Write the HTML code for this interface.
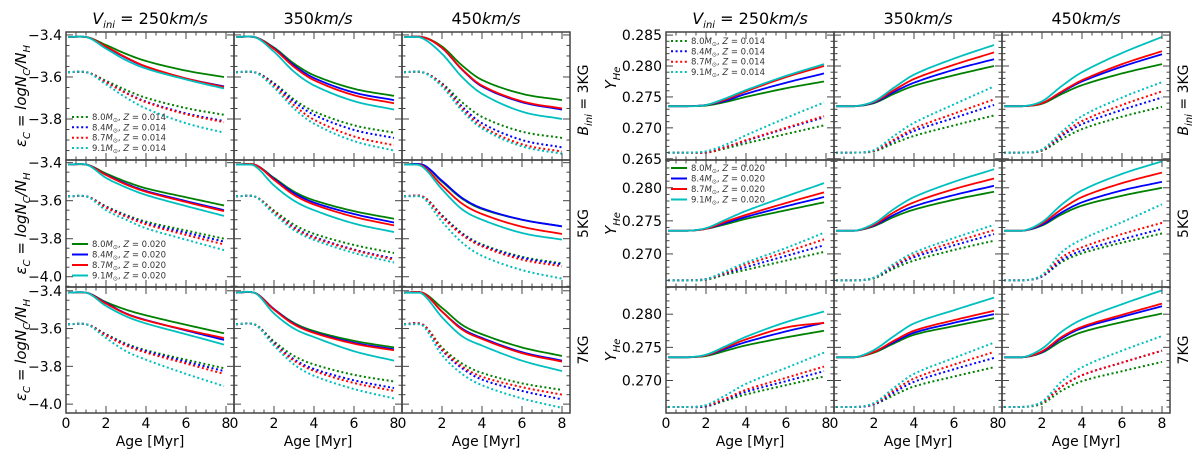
<!DOCTYPE html>
<html><head><meta charset="utf-8"><style>
html,body{margin:0;padding:0;background:#fff;}
svg{display:block;font-family:"DejaVu Sans","Liberation Sans",sans-serif;}
</style></head><body>
<svg id="fig" width="1200" height="450" viewBox="0 0 1200 450" xmlns="http://www.w3.org/2000/svg"></svg>
<script>
// ---- data ----
const ageKnots = [0.1, 1, 2, 3, 4, 6, 8];
const ageKnotsCol1 = [0.1, 1, 2, 3, 4, 6, 7.9];
const massLabels = ['8.0', '8.4', '8.7', '9.1'];
const seriesColors = ['#008000', '#0000ff', '#ff0000', '#00bfbf'];
const columnTitles = ['250km/s', '350km/s', '450km/s'];
const rowTitles = ['3KG', '5KG', '7KG'];
const carbonTicks = [-3.4, -3.6, -3.8, -4.0];
const heliumTicks = [0.285, 0.280, 0.275, 0.270, 0.265];
const xTickLabels = [0, 2, 4, 6, 8];

// Carbon, eps_C ; order green, blue, red, cyan
const carbon_3KG_250_solid = [[-3.41,-3.41,-3.448,-3.49,-3.524,-3.57,-3.60],[-3.41,-3.41,-3.457,-3.509,-3.551,-3.607,-3.645],[-3.41,-3.41,-3.455,-3.507,-3.55,-3.607,-3.648],[-3.41,-3.41,-3.465,-3.52,-3.56,-3.612,-3.655]];
const carbon_3KG_250_dot = [[-3.577,-3.577,-3.618,-3.662,-3.699,-3.748,-3.78],[-3.577,-3.577,-3.624,-3.675,-3.717,-3.773,-3.81],[-3.577,-3.577,-3.625,-3.677,-3.72,-3.777,-3.815],[-3.577,-3.577,-3.635,-3.698,-3.75,-3.82,-3.865]];
const carbon_3KG_350_solid = [[-3.41,-3.41,-3.46,-3.536,-3.592,-3.656,-3.69],[-3.41,-3.41,-3.464,-3.545,-3.605,-3.674,-3.71],[-3.41,-3.41,-3.467,-3.552,-3.615,-3.687,-3.725],[-3.41,-3.41,-3.48,-3.575,-3.64,-3.715,-3.755]];
const carbon_3KG_350_dot = [[-3.577,-3.577,-3.629,-3.707,-3.764,-3.83,-3.865],[-3.577,-3.577,-3.633,-3.718,-3.78,-3.852,-3.89],[-3.577,-3.577,-3.64,-3.734,-3.803,-3.883,-3.925],[-3.577,-3.577,-3.65,-3.75,-3.822,-3.905,-3.95]];
const carbon_3KG_450_solid = [[-3.41,-3.41,-3.455,-3.545,-3.614,-3.68,-3.71],[-3.41,-3.41,-3.462,-3.565,-3.645,-3.72,-3.755],[-3.41,-3.41,-3.461,-3.563,-3.641,-3.716,-3.75],[-3.41,-3.415,-3.49,-3.60,-3.68,-3.765,-3.80]];
const carbon_3KG_450_dot = [[-3.577,-3.577,-3.63,-3.72,-3.79,-3.86,-3.89],[-3.577,-3.577,-3.634,-3.74,-3.82,-3.9,-3.935],[-3.577,-3.577,-3.636,-3.75,-3.835,-3.92,-3.955],[-3.577,-3.577,-3.645,-3.76,-3.845,-3.93,-3.965]];
const carbon_5KG_250_solid = [[-3.41,-3.41,-3.457,-3.5,-3.535,-3.582,-3.625],[-3.41,-3.41,-3.463,-3.511,-3.549,-3.602,-3.65],[-3.41,-3.41,-3.465,-3.515,-3.553,-3.607,-3.655],[-3.41,-3.41,-3.48,-3.53,-3.57,-3.628,-3.68]];
const carbon_5KG_250_dot = [[-3.577,-3.577,-3.63,-3.675,-3.71,-3.757,-3.80],[-3.577,-3.577,-3.633,-3.68,-3.718,-3.768,-3.815],[-3.577,-3.577,-3.636,-3.684,-3.724,-3.78,-3.83],[-3.577,-3.577,-3.65,-3.70,-3.745,-3.805,-3.86]];
const carbon_5KG_350_solid = [[-3.41,-3.41,-3.48,-3.552,-3.598,-3.655,-3.695],[-3.41,-3.41,-3.485,-3.56,-3.61,-3.67,-3.715],[-3.41,-3.41,-3.49,-3.57,-3.62,-3.685,-3.73],[-3.41,-3.415,-3.52,-3.60,-3.65,-3.72,-3.765]];
const carbon_5KG_350_dot = [[-3.577,-3.577,-3.652,-3.726,-3.774,-3.833,-3.875],[-3.577,-3.577,-3.66,-3.74,-3.79,-3.857,-3.905],[-3.577,-3.577,-3.66,-3.745,-3.795,-3.86,-3.91],[-3.577,-3.577,-3.67,-3.755,-3.806,-3.875,-3.925]];
const carbon_5KG_450_solid = [[-3.41,-3.41,-3.50,-3.589,-3.644,-3.70,-3.735],[-3.41,-3.41,-3.495,-3.585,-3.64,-3.70,-3.735],[-3.41,-3.415,-3.52,-3.615,-3.67,-3.737,-3.775],[-3.41,-3.42,-3.54,-3.645,-3.70,-3.77,-3.805]];
const carbon_5KG_450_dot = [[-3.577,-3.577,-3.676,-3.77,-3.83,-3.895,-3.93],[-3.577,-3.577,-3.68,-3.775,-3.835,-3.9,-3.935],[-3.577,-3.577,-3.685,-3.78,-3.84,-3.91,-3.945],[-3.577,-3.58,-3.71,-3.82,-3.89,-3.965,-4.01]];
const carbon_7KG_250_solid = [[-3.41,-3.41,-3.46,-3.5,-3.53,-3.58,-3.625],[-3.41,-3.41,-3.465,-3.52,-3.555,-3.61,-3.66],[-3.41,-3.41,-3.468,-3.522,-3.557,-3.607,-3.65],[-3.41,-3.41,-3.48,-3.535,-3.573,-3.63,-3.685]];
const carbon_7KG_250_dot = [[-3.577,-3.577,-3.63,-3.68,-3.715,-3.765,-3.81],[-3.577,-3.577,-3.633,-3.685,-3.72,-3.775,-3.825],[-3.577,-3.577,-3.636,-3.69,-3.727,-3.785,-3.84],[-3.577,-3.577,-3.65,-3.72,-3.765,-3.84,-3.905]];
const carbon_7KG_350_solid = [[-3.41,-3.41,-3.497,-3.57,-3.613,-3.665,-3.70],[-3.41,-3.41,-3.497,-3.575,-3.62,-3.675,-3.71],[-3.41,-3.41,-3.5,-3.578,-3.623,-3.68,-3.715],[-3.41,-3.41,-3.52,-3.60,-3.645,-3.72,-3.77]];
const carbon_7KG_350_dot = [[-3.577,-3.577,-3.668,-3.745,-3.79,-3.845,-3.88],[-3.577,-3.577,-3.678,-3.763,-3.814,-3.874,-3.915],[-3.577,-3.577,-3.683,-3.77,-3.824,-3.888,-3.93],[-3.577,-3.577,-3.69,-3.79,-3.85,-3.92,-3.97]];
const carbon_7KG_450_solid = [[-3.41,-3.41,-3.49,-3.58,-3.63,-3.70,-3.745],[-3.41,-3.41,-3.51,-3.60,-3.65,-3.725,-3.77],[-3.41,-3.41,-3.51,-3.605,-3.655,-3.73,-3.775],[-3.41,-3.415,-3.54,-3.64,-3.69,-3.77,-3.825]];
const carbon_7KG_450_dot = [[-3.577,-3.577,-3.7,-3.785,-3.835,-3.89,-3.925],[-3.577,-3.577,-3.715,-3.81,-3.87,-3.93,-3.975],[-3.577,-3.577,-3.71,-3.8,-3.855,-3.91,-3.95],[-3.577,-3.58,-3.74,-3.84,-3.9,-3.97,-4.02]];

// Helium, Y_He
const helium_3KG_250_solid = [[.2735,.2735,.2736,.2742,.275,.2764,.2775],[.2735,.2735,.2737,.2744,.2755,.2773,.2788],[.2735,.2735,.2737,.2746,.2759,.2782,.2800],[.2735,.2735,.2737,.2748,.2761,.2784,.2803]];
const helium_3KG_250_dot = [[.266,.266,.266,.2667,.2675,.269,.2704],[.266,.266,.266,.2669,.2679,.2699,.2717],[.266,.266,.266,.2669,.268,.27,.2719],[.266,.266,.2662,.2673,.2688,.2716,.2741]];
const helium_3KG_350_solid = [[.2735,.2735,.274,.2755,.2768,.2785,.28],[.2735,.2735,.2741,.2758,.2773,.2794,.2811],[.2735,.2735,.2742,.2761,.2779,.2802,.2822],[.2735,.2735,.2743,.2765,.2786,.2812,.2834]];
const helium_3KG_350_dot = [[.266,.266,.2662,.2675,.2687,.2704,.272],[.266,.266,.2663,.2679,.2695,.2716,.2737],[.266,.266,.2663,.2681,.2699,.2723,.2746],[.266,.266,.2664,.2687,.2708,.2738,.2767]];
const helium_3KG_450_solid = [[.2735,.2735,.2739,.2755,.2769,.2788,.2803],[.2735,.2735,.274,.2758,.2775,.2799,.2819],[.2735,.2735,.274,.2759,.2777,.2803,.2824],[.2735,.2735,.2743,.2768,.279,.2821,.2847]];
const helium_3KG_450_dot = [[.266,.266,.2663,.2682,.2698,.2718,.2734],[.266,.266,.2664,.2687,.2706,.2729,.2749],[.266,.266,.2664,.269,.2711,.2737,.2759],[.266,.266,.2665,.2694,.2719,.2749,.2774]];
const helium_5KG_250_solid = [[.2735,.2735,.2738,.2745,.2753,.2766,.2778],[.2735,.2735,.2738,.2747,.2756,.2772,.2786],[.2735,.2735,.2738,.2749,.2759,.2777,.2793],[.2735,.2735,.2739,.2752,.2765,.2787,.2807]];
const helium_5KG_250_dot = [[.266,.266,.2661,.2669,.2676,.269,.2703],[.266,.266,.2662,.2671,.268,.2697,.2713],[.266,.266,.2662,.2672,.2684,.2703,.2722],[.266,.266,.2662,.2674,.2687,.2709,.2732]];
const helium_5KG_350_solid = [[.2735,.2735,.2742,.2756,.2767,.2782,.2794],[.2735,.2735,.2743,.2759,.2772,.2789,.2803],[.2735,.2735,.2744,.2763,.2778,.2798,.2814],[.2735,.2735,.2746,.2768,.2786,.2809,.2828]];
const helium_5KG_350_dot = [[.266,.266,.2663,.2678,.269,.2706,.272],[.266,.266,.2664,.2681,.2695,.2713,.273],[.266,.266,.2664,.2683,.2698,.2718,.2736],[.266,.266,.2664,.2685,.2702,.2724,.2744]];
const helium_5KG_450_solid = [[.2735,.2735,.2743,.276,.2773,.2788,.28],[.2735,.2735,.2744,.2763,.2778,.2796,.2809],[.2735,.2735,.2746,.2768,.2786,.2807,.2823],[.2735,.2735,.2748,.2775,.2796,.2821,.284]];
const helium_5KG_450_dot = [[.266,.266,.2666,.2688,.2701,.2717,.2731],[.266,.266,.2666,.2691,.2705,.2722,.2738],[.266,.266,.2667,.2695,.271,.273,.2747],[.266,.266,.2668,.2703,.2722,.2748,.2775]];
const helium_7KG_250_solid = [[.2735,.2735,.2737,.2745,.2753,.2765,.2775],[.2735,.2735,.2738,.2748,.2758,.2774,.2787],[.2735,.2735,.2738,.275,.2762,.278,.2787],[.2735,.2735,.2739,.2752,.2766,.2788,.2804]];
const helium_7KG_250_dot = [[.266,.266,.2661,.267,.2679,.2693,.2706],[.266,.266,.2661,.2672,.2683,.2699,.2714],[.266,.266,.2662,.2673,.2686,.2704,.2721],[.266,.266,.2663,.2678,.2695,.2719,.2742]];
const helium_7KG_350_solid = [[.2735,.2735,.2742,.2756,.2769,.2782,.2794],[.2735,.2735,.2743,.2758,.2772,.2787,.28],[.2735,.2735,.2743,.276,.2775,.2791,.2805],[.2735,.2735,.2746,.2767,.2786,.2806,.2825]];
const helium_7KG_350_dot = [[.266,.266,.2664,.2678,.2691,.2706,.272],[.266,.266,.2664,.2682,.2698,.2717,.2734],[.266,.266,.2665,.2685,.2703,.2724,.2743],[.266,.266,.2666,.2689,.271,.2734,.2757]];
const helium_7KG_450_solid = [[.2735,.2735,.2742,.276,.2773,.2788,.2801],[.2735,.2735,.2743,.2764,.2779,.2796,.2812],[.2735,.2735,.2744,.2766,.2781,.2799,.2816],[.2735,.2735,.2748,.2774,.2792,.2815,.2836]];
const helium_7KG_450_dot = [[.266,.266,.2665,.2685,.2699,.2714,.2728],[.266,.266,.2667,.2691,.2708,.2727,.2745],[.266,.266,.2667,.2691,.2708,.2727,.2745],[.266,.266,.2668,.2699,.272,.2745,.2767]];

const carbonPanels = [
  [[carbon_3KG_250_solid,carbon_3KG_250_dot],[carbon_3KG_350_solid,carbon_3KG_350_dot],[carbon_3KG_450_solid,carbon_3KG_450_dot]],
  [[carbon_5KG_250_solid,carbon_5KG_250_dot],[carbon_5KG_350_solid,carbon_5KG_350_dot],[carbon_5KG_450_solid,carbon_5KG_450_dot]],
  [[carbon_7KG_250_solid,carbon_7KG_250_dot],[carbon_7KG_350_solid,carbon_7KG_350_dot],[carbon_7KG_450_solid,carbon_7KG_450_dot]]];
const heliumPanels = [
  [[helium_3KG_250_solid,helium_3KG_250_dot],[helium_3KG_350_solid,helium_3KG_350_dot],[helium_3KG_450_solid,helium_3KG_450_dot]],
  [[helium_5KG_250_solid,helium_5KG_250_dot],[helium_5KG_350_solid,helium_5KG_350_dot],[helium_5KG_450_solid,helium_5KG_450_dot]],
  [[helium_7KG_250_solid,helium_7KG_250_dot],[helium_7KG_350_solid,helium_7KG_350_dot],[helium_7KG_450_solid,helium_7KG_450_dot]]];

// ---- layout ----
const NS = 'http://www.w3.org/2000/svg';
const svg = document.getElementById('fig');
const rowTop = [32, 160, 287], rowBot = [160, 287, 413];
const PW = 168, XMAX = 8.4;
const carbonYlim = [[-3.995, -3.386], [-4.054, -3.386], [-4.047, -3.38]];
const heliumYlim = [[0.2648, 0.2855], [0.2650, 0.2842], [0.2651, 0.2841]];
const AX = '#444';

function mk(tag, attrs, parent) {
  const e = document.createElementNS(NS, tag);
  for (const k in attrs) e.setAttribute(k, attrs[k]);
  (parent || svg).appendChild(e);
  return e;
}
function txt(parent, x, y, html, size, anchor, extra) {
  const t = mk('text', Object.assign({x: x, y: y, 'font-size': size, 'text-anchor': anchor || 'middle', fill: '#000'}, extra || {}), parent);
  t.innerHTML = html;
  return t;
}
// smooth Catmull-Rom style Hermite interpolation through the data knots
function smooth(xs, ys, n) {
  const m = xs.length, s = [];
  for (let i = 0; i < m; i++) {
    if (i === 0) s.push((ys[1]-ys[0])/(xs[1]-xs[0]));
    else if (i === m - 1) s.push((ys[m-1]-ys[m-2])/(xs[m-1]-xs[m-2]));
    else {
      let t = (ys[i+1]-ys[i-1])/(xs[i+1]-xs[i-1]);
      if (ys[i] === ys[i-1]) t *= 0.6;
      s.push(t);
    }
  }
  const out = [];
  for (let i = 0; i < m - 1; i++) {
    const h = xs[i+1]-xs[i];
    for (let k = 0; k < n; k++) {
      const t = k / n, t2 = t*t, t3 = t2*t;
      let y = (2*t3-3*t2+1)*ys[i] + (t3-2*t2+t)*h*s[i] + (-2*t3+3*t2)*ys[i+1] + (t3-t2)*h*s[i+1];
      if (i === 0) y = ys[1] < ys[0] ? Math.min(y, ys[0]) : Math.max(y, ys[0]);
      out.push([xs[i]+t*h, y]);
    }
  }
  out.push([xs[m-1], ys[m-1]]);
  return out;
}

function drawGrid(gx0, panels, ylims, isCarbon, gname) {
  const g = mk('g', {});
  
  
  for (let r = 0; r < 3; r++) {
    for (let c = 0; c < 3; c++) {
      const x0 = gx0 + c*PW, y0 = rowTop[r], y1 = rowBot[r];
      const [ymin, ymax] = ylims[r];
      const sx = v => x0 + v / XMAX * PW;
      const sy = v => y1 - (v - ymin) / (ymax - ymin) * (y1 - y0);
      const p = mk('g', {}, g);
      
      
      const clipId = 'clip' + gx0 + r + c;
      const cp = mk('clipPath', {id: clipId}, p);
      mk('rect', {x: x0, y: y0, width: PW, height: y1 - y0}, cp);
      const lines = mk('g', {'clip-path': 'url(#' + clipId + ')'}, p);
      const knots = c === 0 ? ageKnotsCol1 : ageKnots;
      const [solid, dot] = panels[r][c];
      [dot, solid].forEach((set, si) => {
        set.forEach((vals, k) => {
          const pts = smooth(knots, vals, 12);
          const d = pts.map((q, i) => (i ? 'L' : 'M') + sx(q[0]).toFixed(2) + ',' + sy(q[1]).toFixed(2)).join('');
          const attrs = {d: d, fill: 'none', stroke: seriesColors[k], 'stroke-width': si === 0 ? 2 : 1.8};
          if (si === 0) { attrs['stroke-dasharray'] = '2,2.6'; }
          const path = mk('path', attrs, lines);
          
          
        });
      });
      // ticks
      const tk = mk('g', {stroke: AX, 'stroke-width': 1}, p);
      for (let v = 0; v <= XMAX; v += 0.5) {
        const major = Math.abs(v % 2) < 1e-6;
        const L = major ? 7 : 3.5, X = sx(v);
        mk('line', {x1: X, y1: y1, x2: X, y2: y1 - L}, tk);
        mk('line', {x1: X, y1: y0, x2: X, y2: y0 + L}, tk);
      }
      const step = isCarbon ? 0.05 : 0.001, mstep = isCarbon ? 0.2 : 0.005;
      const start = Math.ceil(ymin / step - 1e-6);
      for (let i = start; i * step <= ymax + 1e-9; i++) {
        const v = i * step;
        const major = Math.abs(Math.round(v / mstep) * mstep - v) < step / 10;
        const L = major ? 7 : 3.5, Y = sy(v);
        mk('line', {x1: x0, y1: Y, x2: x0 + L, y2: Y}, tk);
        mk('line', {x1: x0 + PW, y1: Y, x2: x0 + PW - L, y2: Y}, tk);
      }
      mk('rect', {x: x0, y: y0, width: PW, height: y1 - y0, fill: 'none', stroke: AX, 'stroke-width': 1.5}, p);
      if (c === 0) {
        const labs = isCarbon ? carbonTicks : heliumTicks;
        labs.forEach(v => {
          if (v < ymin - 1e-6 || v > ymax + 1e-6) return;
          if (!isCarbon && r > 0 && v === 0.265) return;
          const s = isCarbon ? v.toFixed(1).replace('-', '\u2212') : v.toFixed(3);
          const t = txt(p, x0 - 4, sy(v) + 5, s, 14, 'end');
          
          
        });
      }
      if (r === 2) {
        xTickLabels.forEach(v => {
          const t = txt(p, sx(v), 428, String(v), 14, 'middle');
          
          
        });
        const t = txt(p, x0 + PW/2, 446, 'Age [Myr]', 14, 'middle');
        
        
      }
    }
    const cy = (rowTop[r] + rowBot[r]) / 2;
    let yl;
    if (isCarbon) {
      yl = txt(g, 0, 0, '<tspan font-style="italic">ε</tspan><tspan font-size="10" dy="4" font-style="italic">C</tspan><tspan dy="-4"> = </tspan><tspan font-style="italic">logN</tspan><tspan font-size="10" dy="4" font-style="italic">C</tspan><tspan dy="-4" font-style="italic">/N</tspan><tspan font-size="10" dy="4" font-style="italic">H</tspan>', 15, 'middle', {transform: 'translate(' + (gx0 - 40) + ',' + cy + ') rotate(-90)'});
    } else {
      const yy = r === 0 ? 78 : cy;
      yl = txt(g, 0, 0, '<tspan font-style="italic">Y</tspan><tspan font-size="10" dy="4" font-style="italic">He</tspan>', 15, 'middle', {transform: 'translate(' + (gx0 - 50) + ',' + yy + ') rotate(-90)'});
    }
    
    
    const rl = txt(g, 0, 0, r === 0 ? '<tspan font-style="italic">B</tspan><tspan font-size="10" dy="4" font-style="italic">ini</tspan><tspan dy="-4"> = 3KG</tspan>' : rowTitles[r], 14, 'middle', {transform: 'translate(' + (gx0 + 3*PW + 18) + ',' + (r === 0 ? 100 : cy) + ') rotate(-90)'});
    
    
  }
  for (let c = 0; c < 3; c++) {
    const html = c === 0 ? '<tspan font-style="italic">V</tspan><tspan font-size="10" dy="4" font-style="italic">ini</tspan><tspan dy="-4"> = 250</tspan><tspan font-style="italic">km/s</tspan>' : columnTitles[c].slice(0,3) + '<tspan font-style="italic">km/s</tspan>';
    const t = txt(g, gx0 + c*PW + PW/2, 24, html, 16, 'middle');
    
    
  }
}

function legend(x, ys, dotted, zstr, name) {
  const g = mk('g', {});
  
  
  ys.forEach((y, k) => {
    const a = {x1: x, y1: y, x2: x + 16, y2: y, stroke: seriesColors[k], 'stroke-width': 2};
    if (dotted) a['stroke-dasharray'] = '2,2.6';
    const l = mk('line', a, g);
    
    
    const t = txt(g, x + 20, y + 3, massLabels[k] + '<tspan font-style="italic">M</tspan><tspan font-size="6" dy="2">⊙</tspan><tspan dy="-2">, </tspan><tspan font-style="italic">Z</tspan> = ' + zstr, 8.5, 'start', {fill: '#333'});
    
    
  });
}

drawGrid(66, carbonPanels, carbonYlim, true, 'carbon-grid');
drawGrid(666, heliumPanels, heliumYlim, false, 'helium-grid');
legend(72, [117, 127.3, 137.7, 148], true, '0.014', 'carbon-legend-z014');
legend(72, [244, 254.5, 265, 275.5], false, '0.020', 'carbon-legend-z020');
legend(671, [41, 51.3, 61.7, 72], true, '0.014', 'helium-legend-z014');
legend(671, [168, 178.5, 189, 199.5], false, '0.020', 'helium-legend-z020');
</script>
</body></html>
